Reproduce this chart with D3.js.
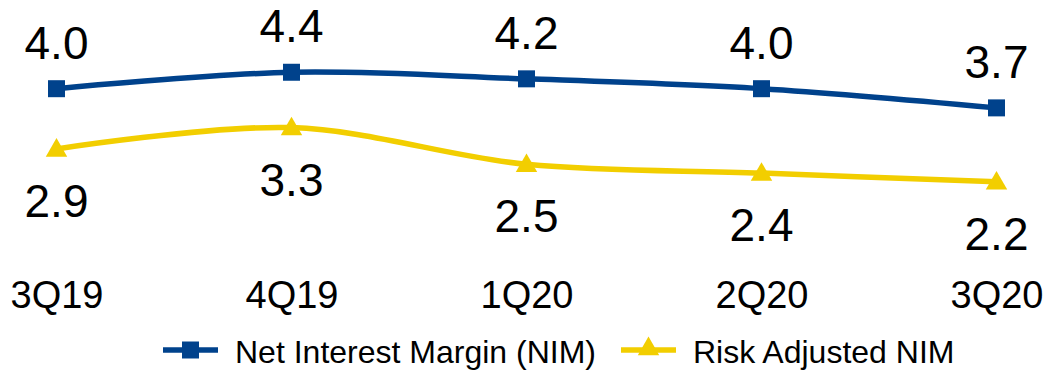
<!DOCTYPE html>
<html>
<head>
<meta charset="utf-8">
<script src="https://cdn.jsdelivr.net/npm/d3@7"></script>
<style>
html,body{margin:0;padding:0;background:#fff;}
svg{display:block;font-family:"Liberation Sans",Arial,sans-serif;}
</style>
</head>
<body>
<svg id="chart" width="1046" height="372"></svg>
<script>
const categories = ["3Q19", "4Q19", "1Q20", "2Q20", "3Q20"];
const nimValues = [4.0, 4.30, 4.18, 4.0, 3.65];
const nimLabels = ["4.0", "4.4", "4.2", "4.0", "3.7"];
const riskValues = [2.9, 3.29, 2.62, 2.46, 2.30];
const riskLabels = ["2.9", "3.3", "2.5", "2.4", "2.2"];
const seriesNames = ["Net Interest Margin (NIM)", "Risk Adjusted NIM"];
const colors = ["#00428C", "#F2CE00"];

const svg = d3.select("#chart");
const x = d3.scalePoint().domain(categories).range([56.5, 996.5]);
const y = d3.scaleLinear().domain([2.0, 4.5]).range([198.3, 61.3]);

const line = d3.line().x((d, i) => x(categories[i])).y(d => y(d)).curve(d3.curveCatmullRom.alpha(0));

const series = [
  {name: seriesNames[0], values: nimValues, labels: nimLabels, color: colors[0], marker: d3.symbolSquare, size: 17*17, dy: -30},
  {name: seriesNames[1], values: riskValues, labels: riskLabels, color: colors[1], marker: d3.symbolTriangle, size: 20*20*Math.sqrt(3)/4*1.15, dy: 68}
];

series.forEach(s => {
  svg.append("path").attr("d", line(s.values)).attr("fill", "none")
    .attr("stroke", s.color).attr("stroke-width", 5.5);
});
series.forEach(s => {
  const sym = d3.symbol().type(s.marker).size(s.size);
  svg.selectAll(null).data(s.values).enter().append("path")
    .attr("d", sym)
    .attr("transform", (d, i) => `translate(${x(categories[i])},${y(d) + (s.marker === d3.symbolTriangle ? 1.5 : 0)})`)
    .attr("fill", s.color);
  svg.selectAll(null).data(s.values).enter().append("text")
    .attr("x", (d, i) => x(categories[i]))
    .attr("y", d => y(d) + s.dy)
    .attr("text-anchor", "middle")
    .attr("font-size", 46)
    .attr("fill", "#000")
    .text((d, i) => s.labels[i]);
});

// category axis
const xAxis = svg.append("g").attr("transform", "translate(0,308)")
  .call(d3.axisBottom(x).tickSize(0).tickPadding(0));
xAxis.select(".domain").remove();
xAxis.selectAll("text").attr("font-size", 38).attr("fill", "#000")
  .attr("font-family", "'Liberation Sans',Arial,sans-serif").attr("dy", 0);

// legend
const legend = svg.append("g").attr("transform", "translate(0,350)");
const legendX = [163, 621];
series.forEach((s, i) => {
  const g = legend.append("g").attr("transform", `translate(${legendX[i]},0)`);
  g.append("line").attr("x1", 0).attr("x2", 55).attr("y1", 0).attr("y2", 0)
    .attr("stroke", s.color).attr("stroke-width", 5.5);
  g.append("path").attr("d", d3.symbol().type(s.marker).size(s.size))
    .attr("transform", `translate(27.5,${s.marker === d3.symbolTriangle ? -1 : 0})`).attr("fill", s.color);
  g.append("text").attr("x", 72).attr("y", 13).attr("font-size", 32).attr("fill", "#000").text(s.name);
});
</script>
</body>
</html>
